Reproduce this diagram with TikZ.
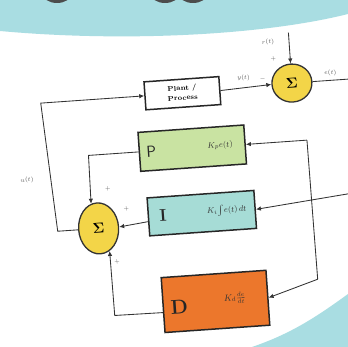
\documentclass[tikz,border=0pt]{standalone}
\usetikzlibrary{shapes.geometric,arrows.meta}
\definecolor{bgteal}{HTML}{A9DDE2}
\definecolor{sumyel}{HTML}{F3D548}
\definecolor{pgreen}{HTML}{C9E3A2}
\definecolor{iteal}{HTML}{A6DCD6}
\definecolor{dorange}{HTML}{EC772C}
\definecolor{wirec}{HTML}{333333}
\tikzset{
  blk/.style={draw=black!85, line width=1.5pt, minimum width=106pt, minimum height=39pt, inner sep=0pt},
  sumnode/.style={ellipse, draw=black!80, line width=1.3pt, fill=sumyel, inner sep=0pt, font=\fontsize{15}{15}\selectfont},
  wire/.style={draw=wirec, line width=0.85pt},
  arr/.style={wire, -{Latex[length=5pt,width=4.5pt]}},
  lbl/.style={font=\fontsize{6}{7}\selectfont, text=black!65, inner sep=0pt},
  sgn/.style={font=\fontsize{6}{6}\selectfont, text=black!65, inner sep=0pt},
  letter/.style={font=\sffamily\fontsize{16}{16}\selectfont, text=black!85, inner sep=0pt},
  formula/.style={font=\fontsize{8}{8}\selectfont, text=black!80, inner sep=0pt},
}
\begin{document}
\begin{tikzpicture}[x=1pt,y=-1pt]
\useasboundingbox (0,0) rectangle (348,347);
\clip (0,0) rectangle (348,347);
\fill[white] (0,0) rectangle (348,347);
% background bands
\fill[bgteal] (0,0) -- (0,31) .. controls (120,42) and (260,36) .. (348,14) -- (348,0) -- cycle;
\fill[bgteal] (348,294) .. controls (315,318) and (290,334) .. (252,347) -- (348,347) -- cycle;
% cut-off dark shapes at the top edge
\fill[black!70] (57,-6) ellipse (14 and 9);
\fill[black!70] (165,-6) ellipse (14 and 9);
\fill[black!70] (193,-6) ellipse (14 and 9);

\begin{scope}[rotate around={4:(174,174)}, transform shape]
  % blocks
  \node[blk, fill=white, minimum width=75pt, minimum height=28pt] (plant) at (188,94) {};
  \node[font=\bfseries\fontsize{7}{7}\selectfont, inner sep=0pt] (plantt) at (188,89.5) {Plant /};
  \node[font=\bfseries\fontsize{7}{7}\selectfont, inner sep=0pt] (plantb) at (188,98.5) {Process};
  \node[sumnode, minimum width=40pt, minimum height=38pt] (S1) at (298,91.5) {$\mathbf{\Sigma}$};
  \node[blk, fill=pgreen] (P) at (194,149.5) {};
  \node[blk, fill=iteal, minimum width=107pt, minimum height=38pt] (I) at (199,215) {};
  \node[blk, fill=dorange, minimum width=105pt, minimum height=55pt] (D) at (206.5,304) {};
  \node[sumnode, minimum width=40pt, minimum height=51pt] (S2) at (95,223) {$\mathbf{\Sigma}$};

  % block contents
  \node[letter] (Pl) at (153,150) {P};
  \node[formula] (Pf) at (222,149) {$K_p e(t)$};
  \node[letter, font=\bfseries\fontsize{17}{17}\selectfont] (Il) at (160,215) {I};
  \node[formula] (If) at (224,214) {$K_i\!\int\! e(t)\,dt$};
  \node[letter, font=\bfseries\fontsize{20}{20}\selectfont] (Dl) at (170,307) {D};
  \node[formula, font=\fontsize{9}{9}\selectfont] (Df) at (226,302) {$K_d\frac{de}{dt}$};

  % labels
  \node[lbl] (rl) at (277,49) {$r(t)$};
  \node[lbl] (yl) at (250,83) {$y(t)$};
  \node[lbl] (el) at (337,84) {$e(t)$};
  \node[lbl] (ul2) at (27,170) {$u(t)$};
  \node[sgn] (s1a) at (281,66) {$+$};
  \node[sgn] (s1b) at (269,85) {$-$};
  \node[sgn] (s2a) at (107,184) {$+$};
  \node[sgn] (s2b) at (124,205) {$+$};
  \node[sgn] (s2c) at (111,258) {$+$};

  % coordinates
  \coordinate (rt) at (298,41);
  \coordinate (eo) at (356,91.5);
  \coordinate (pc) at (309,149.5);
  \coordinate (dc) at (310,289);
  \coordinate (ii) at (356,205);
  \coordinate (pl) at (90,149.5);
  \coordinate (dl) at (105,311);
  \coordinate (ul) at (54,223);
  \coordinate (ut) at (46,94);

  % connectors
  \draw[arr] (rt) -- (S1.north);
  \draw[arr] (plant.east) -- (S1.west);
  \draw[wire] (S1.east) -- (eo);
  \draw[wire] (pc) -- (dc);
  \draw[arr] (pc) -- (P.east);
  \draw[arr] (dc) -- (D.east);
  \draw[arr] (ii) -- (I.east);
  \draw[arr] (P.west) -- (pl) -- (S2.103);
  \draw[arr] (I.185) -- (S2.east);
  \draw[arr] (D.188) -- (dl) -- (S2.-68);
  \draw[arr] (S2.west) -- (ul) -- (ut) -- (plant.west);
\end{scope}
\end{tikzpicture}
\end{document}
